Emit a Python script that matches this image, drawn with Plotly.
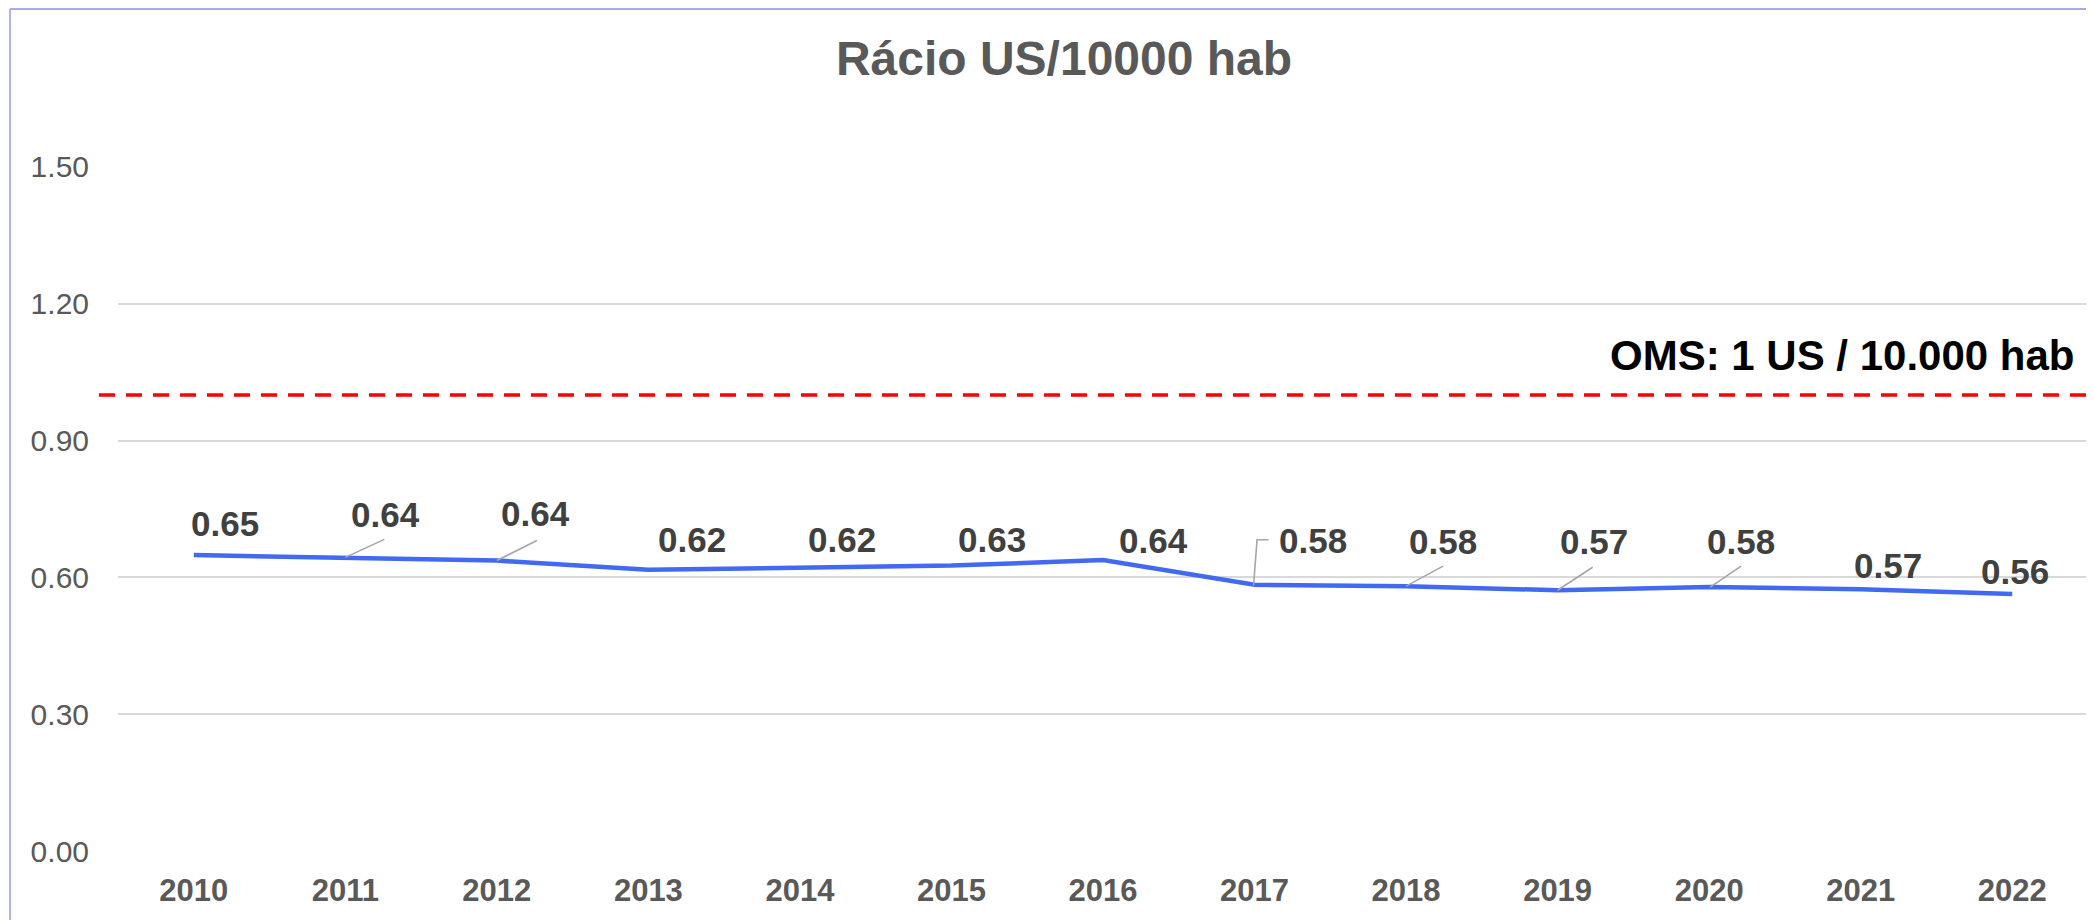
import plotly.graph_objects as go

# ---- data ----
years = ["2010", "2011", "2012", "2013", "2014", "2015", "2016",
         "2017", "2018", "2019", "2020", "2021", "2022"]
ratio = [0.649, 0.644, 0.637, 0.617, 0.622, 0.626, 0.638,
         0.584, 0.581, 0.572, 0.579, 0.574, 0.564]
oms_target = 1.0
oms_label = "OMS: 1 US / 10.000 hab"
title_text = "Rácio US/10000 hab"
y_ticks = [0.0, 0.3, 0.6, 0.9, 1.2, 1.5]

# ---- label placement (pixel offsets from each point: dx right, dy up) ----
label_dx = [31, 40, 39, 44, 42, 41, 50, 58, 37, 36, 32, 27, 3]
label_dy = [32, 43, 47, 30, 28, 26, 20, 44, 45, 49, 46, 24, 22]
# leader lines: index -> svg path relative to point (pixels, y up)
leaders = {
    1: "M 0,0 L 39,18",
    2: "M 0,0 L 40,20",
    7: "M -1,-1 L 2.5,45 L 14,45",
    8: "M 0,0 L 37,20",
    9: "M 0,0 L 35,23",
    10: "M 1,0 L 32,21",
}

FONT = "Liberation Sans, Arial, sans-serif"
W, H = 2094, 920
OFF = 8  # page body margin
ML, MR, MT, MB = 118 - OFF, 2094 - 2088 + OFF, 166 - OFF, 920 - 852 + OFF
PW = W - ML - MR
PH = H - MT - MB


def px_x(p):
    return (p - OFF - ML) / PW


def px_y(p):
    return (H - MB - (p - OFF)) / PH


fig = go.Figure()
fig.add_trace(go.Scatter(
    x=list(range(len(years))), y=ratio, mode="lines",
    line=dict(color="#4169F2", width=4.5),
    hoverinfo="y", showlegend=False,
))

# OMS dashed reference line (extends a bit left of plot area)
fig.add_shape(type="line", xref="paper", yref="y",
              x0=px_x(99), x1=px_x(2100), y0=oms_target, y1=oms_target,
              line=dict(color="#FF0000", width=3.5, dash="16px,11px"))
fig.add_annotation(xref="paper", yref="y", x=px_x(2077), y=oms_target,
                   text=f"<b>{oms_label}</b>", showarrow=False,
                   xanchor="right", yanchor="middle", yshift=39,
                   font=dict(family=FONT, size=42, color="#000000"))

# data labels
for i, v in enumerate(ratio):
    fig.add_annotation(x=i, y=v, xref="x", yref="y",
                       text=f"<b>{v:.2f}</b>", showarrow=False,
                       xanchor="center", yanchor="middle",
                       xshift=label_dx[i], yshift=label_dy[i],
                       font=dict(family=FONT, size=35, color="#404040"))
    if i in leaders:
        fig.add_shape(type="path", xref="x", yref="y",
                      xsizemode="pixel", ysizemode="pixel",
                      xanchor=i, yanchor=v, path=leaders[i],
                      line=dict(color="#A6A6A6", width=1.6))

# chart border (top & left)
fig.add_shape(type="line", xref="paper", yref="paper",
              x0=px_x(10), x1=px_x(2110), y0=px_y(9), y1=px_y(9),
              line=dict(color="#A9A9EE", width=1.8))
fig.add_shape(type="line", xref="paper", yref="paper",
              x0=px_x(10), x1=px_x(10), y0=px_y(9), y1=px_y(940),
              line=dict(color="#A9A9EE", width=1.8))

fig.update_layout(
    width=W, height=H,
    margin=dict(l=ML, r=MR, t=MT, b=MB),
    paper_bgcolor="white", plot_bgcolor="white",
    title=dict(text=f"<b>{title_text}</b>", x=(1064 - OFF) / W, xref="container",
               y=1 - (58 - OFF) / H, yref="container", xanchor="center", yanchor="middle",
               font=dict(family=FONT, size=48, color="#595959")),
    xaxis=dict(tickmode="array", tickvals=list(range(len(years))), ticktext=[f"<b>{y}</b>" for y in years],
               range=[-0.5, len(years) - 0.5],
               showgrid=False, showline=False, ticks="", zeroline=False,
               tickfont=dict(family=FONT, size=31, color="#595959"),
               ticklabelstandoff=17),
    yaxis=dict(range=[-0.0015, 1.5015], tickvals=y_ticks, tickformat=".2f",
               showgrid=True, gridcolor="#D9D9D9", gridwidth=2,
               zeroline=False, showline=False, ticks="",
               tickfont=dict(family=FONT, size=30, color="#595959"),
               ticklabelstandoff=28),
)

fig.write_html("out.html")
